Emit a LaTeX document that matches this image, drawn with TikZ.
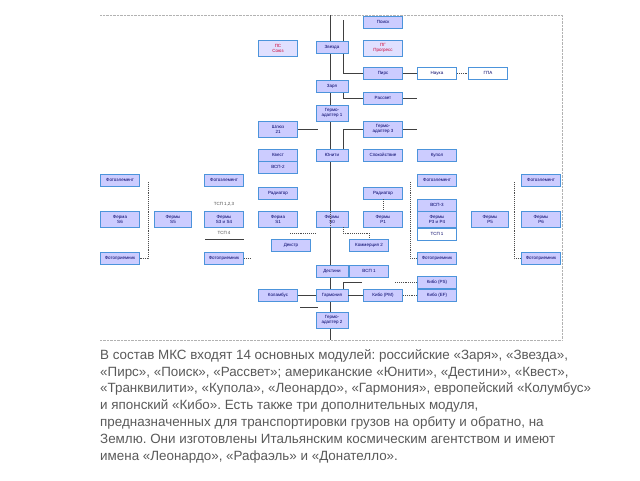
\documentclass[tikz,border=0pt]{standalone}
\usepackage{fontspec}
\setmainfont{Liberation Sans}
\begin{document}
\frenchspacing
\begin{tikzpicture}[x=1pt,y=-1pt,
 bx/.style={draw=blue!50!cyan!80!black!70,fill=blue!20!white,line width=0.8pt,minimum width=39pt,minimum height=12pt,inner sep=0.5pt,align=center,font=\fontsize{4.5}{5}\selectfont,text=blue!40!black},
 bxw/.style={bx,fill=white},
 bxr/.style={bx,fill=blue!12!white,text=purple!80!red},
 tall/.style={minimum height=16pt},
 ln/.style={draw=black!75,line width=0.9pt},
 dt/.style={draw=black!70,line width=0.9pt,densely dotted},
 lbl/.style={font=\fontsize{4.5}{5}\selectfont,text=black!70}]
\useasboundingbox (0,0) rectangle (640,480);
\draw[black!30,densely dotted] (100,15) -- (562,15) -- (562,340) -- (100,340);
\draw[ln] (330,15) -- (330,210);
\draw[ln] (330,228) -- (330,340);
\draw[ln] (343,20) -- (343,73) -- (370,73);
\draw[ln] (343,90) -- (343,98) -- (365,98);
\draw[ln] (343,155) -- (343,129) -- (365,129);
\draw[ln] (400,98) -- (417,98);
\draw[ln] (400,129) -- (417,129);
\draw[ln] (298,129) -- (318,129);
\draw[ln] (343,290) -- (343,282) -- (362,282);
\draw[ln] (300,307) -- (318,307);
\draw[ln] (205,239) -- (244,239);
\node[bx] (poisk) at (383,22) {Поиск};
\node[bx,minimum width=32pt] (zvezda) at (332,47) {Звезда};
\node[bxr,tall] (ps) at (278,48) {ПС\\Союз};
\node[bxr,tall] (pg) at (383,48) {ПГ\\Прогресс};
\node[bx] (pirs) at (383,73) {Пирс};
\node[bxw] (nauka) at (437,73) {Наука};
\node[bxw] (gpa) at (488,73) {ГПА};
\node[bx,minimum width=32pt] (zarya) at (332,86) {Заря};
\node[bx] (rassvet) at (383,98) {Рассвет};
\node[bx,tall,minimum width=32pt] (ga1) at (332,113) {Гермо-\\адаптер 1};
\node[bx,tall] (ga3) at (383,129) {Гермо-\\адаптер 3};
\node[bx,tall] (shluz) at (278,129) {Шлюз\\21};
\node[bx] (kvest) at (278,155) {Квест};
\node[bx] (vsp2) at (278,167) {ВСП-2};
\node[bx,minimum width=32pt] (unity) at (332,155) {Юнити};
\node[bx] (spok) at (383,155) {Спокойствие};
\node[bx] (kupol) at (437,155) {Купол};
\draw[ln] (pirs) -- (nauka);
\draw[dt] (nauka) -- (gpa);
\node[bx] (fe1) at (120,180) {Фотоэлемент};
\node[bx,tall] (s6) at (120,219) {Ферма\\S6};
\node[bx] (fp1) at (120,258) {Фотоприемник};
\node[bx,tall,minimum width=37pt] (s5) at (173,219) {Фермы\\S5};
\node[bx] (fe2) at (224,180) {Фотоэлемент};
\node[bx,tall] (s34) at (224,219) {Фермы\\S3 и S4};
\node[lbl] (t1) at (224,204) {ТСП 1,2,3};
\node[lbl] (t2) at (224,233) {ТСП 4};
\node[bx] (fp2) at (224,258) {Фотоприемник};
\node[bx] (rad1) at (278,193) {Радиатор};
\node[bx,tall] (s1) at (278,219) {Ферма\\S1};
\node[bx,tall,minimum width=32pt] (s0) at (332,219) {Фермы\\S0};
\node[bx] (dekstr) at (291,245) {Декстр};
\node[bx] (komm) at (369,245) {Коммерция 2};
\node[bx] (rad2) at (383,193) {Радиатор};
\node[bx,tall] (p1) at (383,219) {Фермы\\P1};
\node[bx] (fe3) at (437,180) {Фотоэлемент};
\node[bx] (vsp3) at (437,205) {ВСП-3};
\node[bx,tall] (p34) at (437,219) {Фермы\\P3 и P4};
\node[bxw] (tsp) at (437,234) {ТСП 1};
\node[bx] (fp3) at (437,258) {Фотоприемник};
\node[bx,tall,minimum width=37pt] (p5) at (490,219) {Фермы\\P5};
\node[bx] (fe4) at (541,180) {Фотоэлемент};
\node[bx,tall] (p6) at (541,219) {Фермы\\P6};
\node[bx] (fp4) at (541,258) {Фотоприемник};
\draw[dt] (148,182) -- (148,258) -- (fp1);
\draw[dt] (fp2) -- (250,258);
\draw[dt] (410,182) -- (410,258) -- (fp3);
\draw[dt] (514,182) -- (514,258) -- (fp4);
\draw[dt] (rad2) -- (p1);
\draw[dt] (330,210) -- (330,228);
\draw[dt] (343,227) -- (343,233) -- (369,233) -- (komm);
\draw[dt] (290,233) -- (315,233);
\node[bx,minimum width=32pt] (dest) at (332,271) {Дестини};
\node[bx] (vsp1) at (369,271) {ВСП 1};
\node[bx] (kps) at (437,282) {Кибо (PS)};
\node[bx] (kef) at (437,295) {Кибо (EF)};
\node[bx] (kol) at (278,295) {Коламбус};
\node[bx,minimum width=32pt] (garm) at (332,295) {Гармония};
\node[bx] (kpm) at (383,295) {Кибо (PM)};
\node[bx,tall,minimum width=32pt] (ga2) at (332,320) {Гермо-\\адаптер 2};
\draw[ln] (kol) -- (garm);
\draw[ln] (garm) -- (kpm);
\draw[dt] (kpm) -- (kef);
\draw[dt] (395,282) -- (kps);
\node[anchor=north west,align=left,inner sep=0pt,text=black!65,font=\fontsize{13.4}{16.9}\selectfont] (txt) at (100,349) {В состав МКС входят 14 основных модулей: российские «Заря», «Звезда»,\\«Пирс», «Поиск», «Рассвет»; американские «Юнити», «Дестини», «Квест»,\\«Транквилити», «Купола», «Леонардо», «Гармония», европейский «Колумбус»\\и японский «Кибо». Есть также три дополнительных модуля,\\предназначенных для транспортировки грузов на орбиту и обратно, на\\Землю. Они изготовлены Итальянским космическим агентством и имеют\\имена «Леонардо», «Рафаэль» и «Донателло».};
\end{tikzpicture}
\end{document}
